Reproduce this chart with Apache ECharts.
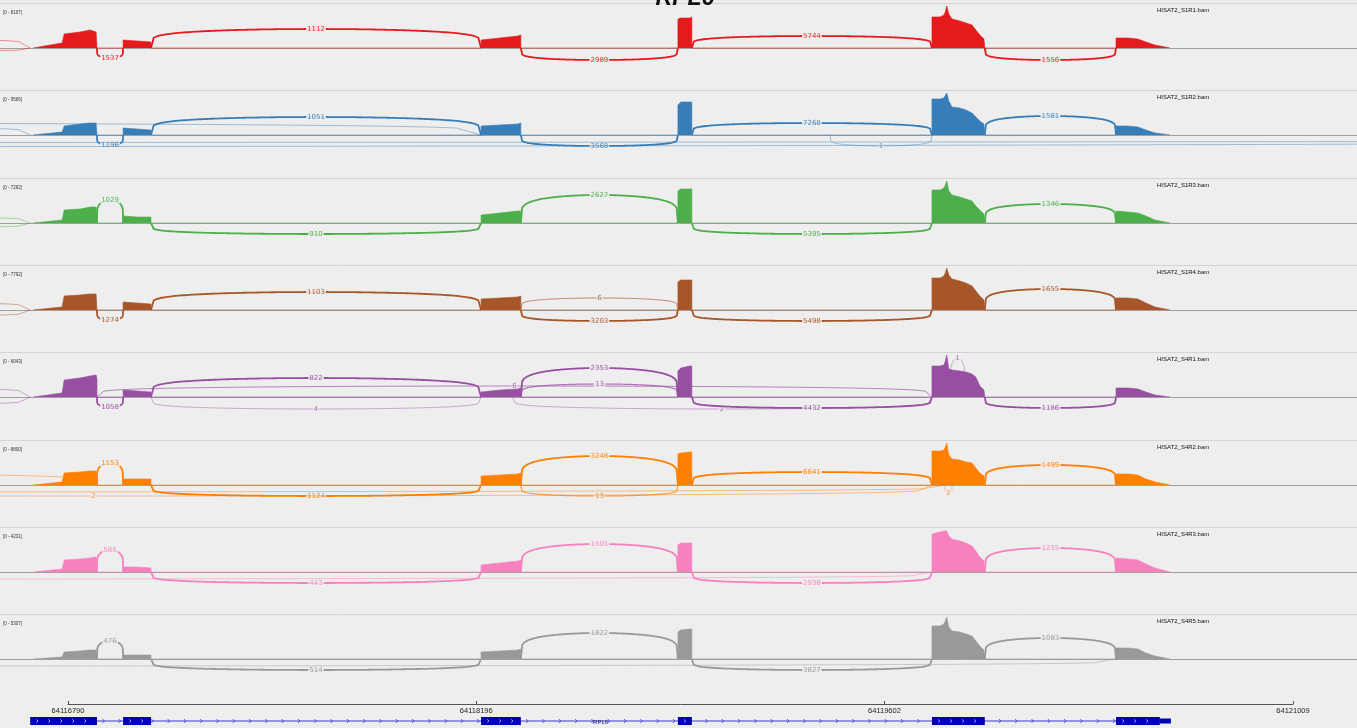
<!DOCTYPE html>
<html>
<head>
<meta charset="utf-8">
<script src="https://cdn.jsdelivr.net/npm/echarts@6/dist/echarts.min.js"></script>
<style>
  html, body { margin: 0; padding: 0; background: #eeeeee; }
  #chart { width: 1357px; height: 728px; }
</style>
</head>
<body>
<div id="chart"></div>
<script>
// ---------------- data ----------------
const geneName = 'RPL6';
const viewStart = 64116556;
const viewEnd = 64121230;
const axisTicks = [64116790, 64118196, 64119602, 64121009];

// exons of the gene model [start, end]; last exon has a UTR tail after cdsEnd
const exons = [
  [64116660, 64116890], [64116980, 64117076], [64118213, 64118350],
  [64118891, 64118939], [64119766, 64119948], [64120400, 64120589]
];
const cdsEnd = 64120551;

const sampleNames = [
  'HISAT2_S1R1.bam', 'HISAT2_S1R2.bam', 'HISAT2_S1R3.bam', 'HISAT2_S1R4.bam',
  'HISAT2_S4R1.bam', 'HISAT2_S4R2.bam', 'HISAT2_S4R3.bam', 'HISAT2_S4R5.bam'
];
const dataRanges = [8107, 9566, 7282, 7792, 6043, 8800, 4231, 5307];

// genomic positions where read depth is sampled (shared by every track)
const covPos = [
  64116670, 64116770, 64116777, 64116832, 64116866, 64116887, 64116890, 64116890,
  64116980, 64116980, 64117028, 64117076, 64117076,
  64118213, 64118213, 64118278, 64118340, 64118350, 64118350,
  64118891, 64118891, 64118901, 64118932, 64118939, 64118939,
  64119766, 64119766, 64119794, 64119807, 64119812, 64119817, 64119824, 64119835,
  64119862, 64119883, 64119904, 64119917, 64119931, 64119945, 64119948, 64119948,
  64120400, 64120400, 64120441, 64120475, 64120503, 64120534, 64120586
];

const covS1R1 = [
  0, 965, 2702, 3088, 3474, 3088, 2895, 0,
  0, 1544, 1351, 1158, 0,
  0, 1544, 1930, 2316, 2509, 0,
  0, 5597, 5790, 5790, 5983, 0,
  0, 5983, 5983, 6369, 6948, 8107, 6562, 5597, 5211, 4825, 4439, 3474, 2509, 1737, 1544, 0,
  0, 1930, 1930, 1737, 1158, 579, 0
];
const covS1R2 = [
  0, 684, 2050, 2506, 2733, 2733, 2506, 0,
  0, 1594, 1367, 1139, 0,
  0, 2050, 2278, 2506, 2733, 0,
  0, 6833, 7516, 7516, 7516, 0,
  0, 8199, 8199, 8427, 8882, 9566, 7744, 6377, 6150, 5694, 5011, 4100, 3189, 2506, 2278, 0,
  0, 2050, 2050, 1822, 1139, 456, 0
];
const covS1R3 = [
  0, 520, 2254, 2427, 2774, 2774, 2601, 0,
  0, 1214, 1040, 1040, 0,
  0, 1387, 1734, 2080, 2080, 0,
  0, 5548, 5895, 5895, 5895, 0,
  0, 5721, 5721, 6068, 6588, 7282, 5548, 4855, 4508, 4161, 3814, 2947, 2254, 1560, 1387, 0,
  0, 2080, 1907, 1734, 1214, 520, 0
];
const covS1R4 = [
  0, 557, 2597, 2783, 2969, 2969, 2783, 0,
  0, 1484, 1299, 1113, 0,
  0, 2041, 2226, 2412, 2597, 0,
  0, 5195, 5566, 5566, 5566, 0,
  0, 5937, 5937, 6308, 6865, 7792, 6494, 5751, 5380, 5009, 4453, 3525, 2597, 1855, 1670, 0,
  0, 2226, 2226, 2041, 1299, 557, 0
];
const covS4R1 = [
  0, 576, 2446, 2734, 3022, 3165, 2590, 0,
  0, 1007, 863, 719, 0,
  0, 719, 1007, 1151, 1295, 0,
  0, 3741, 4173, 4460, 4460, 0,
  0, 4460, 4460, 4604, 5180, 6043, 4029, 3885, 3741, 3597, 3309, 2878, 1583, 1007, 863, 0,
  0, 1295, 1295, 1151, 719, 288, 0
];
const covS4R2 = [
  0, 629, 2514, 2724, 2933, 2933, 2724, 0,
  0, 1257, 1257, 1257, 0,
  0, 1886, 2095, 2305, 2514, 0,
  0, 6495, 6705, 6914, 6914, 0,
  0, 7124, 7124, 7333, 7962, 8800, 6286, 5448, 5238, 4819, 4610, 3562, 2514, 1886, 1676, 0,
  0, 2305, 2305, 2095, 1257, 629, 0
];
const covS4R3 = [
  0, 302, 1209, 1310, 1410, 1511, 1410, 0,
  0, 504, 504, 403, 0,
  0, 705, 907, 1108, 1209, 0,
  0, 2720, 2921, 2921, 2921, 0,
  0, 3828, 4029, 4130, 4231, 4130, 3626, 3324, 3123, 2921, 2619, 2115, 1511, 1108, 1007, 0,
  0, 1410, 1310, 1209, 806, 403, 0
];
const covS4R5 = [
  0, 253, 884, 1011, 1137, 1137, 1011, 0,
  0, 505, 505, 505, 0,
  0, 884, 1011, 1137, 1264, 0,
  0, 3412, 3664, 3791, 3791, 0,
  0, 4170, 4170, 4422, 4802, 5307, 4043, 3538, 3412, 3159, 2906, 2274, 1643, 1137, 1011, 0,
  0, 1390, 1390, 1264, 758, 379, 0
];

// splice junctions [donor, acceptor, read count]
const juncS1R1 = [
  [64111840, 64116660, 4], [64111840, 64116660, 3],
  [64116890, 64116980, 1537], [64117076, 64118213, 1112], [64118350, 64118891, 2989],
  [64118939, 64119766, 5744], [64119948, 64120400, 1556]
];
const juncS1R2 = [
  [64111840, 64116660, 3],
  [64116890, 64116980, 1196], [64117076, 64118213, 1051], [64118350, 64118891, 3568],
  [64118939, 64119766, 7268], [64119948, 64120400, 1581], [64119415, 64119766, 1],
  [64107946, 64118213, 2], [64047676, 64125166, 3], [64064900, 64122756, 2]
];
const juncS1R3 = [
  [64111840, 64116660, 3], [64111840, 64116660, 2],
  [64116890, 64116980, 1029], [64117076, 64118213, 910], [64118350, 64118891, 2627],
  [64118939, 64119766, 5395], [64119948, 64120400, 1346]
];
const juncS1R4 = [
  [64111840, 64116660, 3], [64111840, 64116660, 2],
  [64116890, 64116980, 1274], [64117076, 64118213, 1103], [64118350, 64118891, 6],
  [64118350, 64118891, 3203], [64118939, 64119766, 5498], [64119948, 64120400, 1655]
];
const juncS4R1 = [
  [64111840, 64116660, 3], [64111840, 64116660, 2],
  [64116890, 64116980, 1058], [64116890, 64119766, 6], [64117076, 64118213, 822],
  [64117076, 64118213, 4], [64118350, 64118891, 2353], [64118350, 64118891, 13],
  [64118320, 64119766, 2], [64118939, 64119766, 4432], [64119948, 64120400, 1186],
  [64119828, 64119880, 1]
];
const juncS4R2 = [
  [64111840, 64116870, 2],
  [64116890, 64116980, 1153], [64117076, 64118213, 1124], [64118350, 64118891, 3248],
  [64118350, 64118891, 13], [64118939, 64119766, 6641], [64119948, 64120400, 1499],
  [64119811, 64119835, 2], [64113990, 64119766, 2], [64111000, 64119811, 3]
];
const juncS4R3 = [
  [64116890, 64116980, 585], [64117076, 64118213, 443], [64118350, 64118891, 1501],
  [64118939, 64119766, 2938], [64119948, 64120400, 1215], [64111400, 64119766, 2]
];
const juncS4R5 = [
  [64116890, 64116980, 476], [64117076, 64118213, 514], [64118350, 64118891, 1822],
  [64118939, 64119766, 3827], [64119948, 64120400, 1083], [64111400, 64120400, 2]
];

// ---------------- drawing style ----------------
const trackColors = ['#e41a1c', '#377eb8', '#4daf4a', '#a65628', '#984ea3', '#ff7f00', '#f781bf', '#999999'];
// arc placement for each junction: [side (1 above / -1 below), arc height in px]
const arcStyleS1R1 = [[1, 12], [-1, 4], [-1, 10], [1, 19], [-1, 12], [1, 12], [-1, 12]];
const arcStyleS1R2 = [[1, 10], [-1, 10], [1, 18], [-1, 11], [1, 12], [1, 19], [-1, 11], [1, 13], [-1, 9], [-1, 14]];
const arcStyleS1R3 = [[1, 8], [-1, 6], [1, 23], [-1, 11], [1, 28], [-1, 11], [1, 19]];
const arcStyleS1R4 = [[1, 10], [-1, 8], [-1, 10], [1, 18], [1, 12], [-1, 11], [-1, 11], [1, 21]];
const arcStyleS4R1 = [[1, 12], [-1, 10], [-1, 10], [1, 11], [1, 19], [-1, 12], [1, 29], [1, 13], [-1, 12], [-1, 11], [-1, 11], [1, 39]];
const arcStyleS4R2 = [[1, 13], [1, 22], [-1, 11], [1, 29], [-1, 11], [1, 13], [1, 20], [-1, 8], [-1, 11], [-1, 7]];
const arcStyleS4R3 = [[1, 22], [-1, 11], [1, 28], [-1, 11], [1, 24], [-1, 7]];
const arcStyleS4R5 = [[1, 18], [-1, 11], [1, 26], [-1, 11], [1, 21], [-1, 7]];

const tracks = [
  { cov: covS1R1, junc: juncS1R1, arcs: arcStyleS1R1 },
  { cov: covS1R2, junc: juncS1R2, arcs: arcStyleS1R2 },
  { cov: covS1R3, junc: juncS1R3, arcs: arcStyleS1R3 },
  { cov: covS1R4, junc: juncS1R4, arcs: arcStyleS1R4 },
  { cov: covS4R1, junc: juncS4R1, arcs: arcStyleS4R1 },
  { cov: covS4R2, junc: juncS4R2, arcs: arcStyleS4R2 },
  { cov: covS4R3, junc: juncS4R3, arcs: arcStyleS4R3 },
  { cov: covS4R5, junc: juncS4R5, arcs: arcStyleS4R5 }
];

const BG = '#eeeeee';
const FIRST_BASE = 48, TRACK_STEP = 87.3, COV_H = 42, BELOW_H = 40;

const grids = [], xAxes = [], yAxes = [], series = [], graphics = [];

tracks.forEach((t, i) => {
  const color = trackColors[i];
  const range = dataRanges[i];
  const base = Math.round(FIRST_BASE + i * TRACK_STEP);
  grids.push({ left: 0, right: 0, top: base - COV_H, height: COV_H + BELOW_H });
  xAxes.push({
    type: 'value', gridIndex: i, min: viewStart, max: viewEnd,
    axisLine: { show: true, onZero: true, lineStyle: { color: '#a0a0a0', width: 1 } },
    axisTick: { show: false }, axisLabel: { show: false }, splitLine: { show: false }
  });
  yAxes.push({ type: 'value', gridIndex: i, min: -range * BELOW_H / COV_H, max: range, show: false });

  // junction arcs
  series.push({
    type: 'custom', xAxisIndex: i, yAxisIndex: i, clip: true, z: 2, silent: true,
    data: t.junc,
    renderItem: (params, api) => {
      const [side, lift] = t.arcs[params.dataIndex];
      const count = api.value(2);
      const p0 = api.coord([api.value(0), 0]);
      const p1 = api.coord([api.value(1), 0]);
      const pts = [];
      const N = 120;
      for (let k = 0; k <= N; k++) {
        const u = k / N;
        const h = lift * Math.pow(Math.sin(Math.PI * u), 0.17);
        pts.push([p0[0] + (p1[0] - p0[0]) * u, p0[1] - side * h]);
      }
      const w = count >= 100 ? 1.8 : (count >= 10 ? 1.2 : 0.9);
      const op = count >= 100 ? 1 : (count >= 5 ? 0.75 : 0.5);
      return {
        type: 'group',
        children: [
          { type: 'polyline', shape: { points: pts }, style: { stroke: color, lineWidth: w, fill: null, opacity: op } },
          {
            type: 'text', x: (p0[0] + p1[0]) / 2, y: p0[1] - side * lift,
            style: {
              text: String(count), fill: color, fontSize: 7, fontFamily: 'DejaVu Sans',
              align: 'center', verticalAlign: 'middle', backgroundColor: BG, padding: [0, 1],
              opacity: count >= 100 ? 0.9 : 0.8
            }
          }
        ]
      };
    }
  });

  // read coverage
  series.push({
    type: 'line', xAxisIndex: i, yAxisIndex: i, z: 3, silent: true,
    data: covPos.map((p, k) => [p, t.cov[k]]),
    symbol: 'none', showSymbol: false,
    lineStyle: { width: 0.6, color: color },
    itemStyle: { color: color },
    areaStyle: { color: color, opacity: 1 }
  });

  graphics.push({
    type: 'line', silent: true, z: 0,
    shape: { x1: 0, y1: base - 44.5, x2: 1357, y2: base - 44.5 },
    style: { stroke: '#d4d4d4', lineWidth: 1 }
  });
  graphics.push({
    type: 'text', silent: true, x: 3, y: base - 38,
    style: { text: '[0 - ' + range + ']', fontSize: 4.5, fontFamily: 'Liberation Sans', fill: '#333' }
  });
  graphics.push({
    type: 'text', silent: true, x: 1157, y: base - 41,
    style: { text: sampleNames[i], fontSize: 6, fontFamily: 'Liberation Sans', fill: '#111' }
  });
});

// genomic coordinate axis
const axisGrid = grids.length;
grids.push({ left: 68, right: 64, top: 700, height: 4 });
xAxes.push({
  type: 'value', gridIndex: axisGrid, min: axisTicks[0], max: axisTicks[axisTicks.length - 1],
  axisLine: { show: true, onZero: false, lineStyle: { color: '#555', width: 1 } },
  axisTick: { show: true, inside: true, length: 3, customValues: axisTicks, lineStyle: { color: '#555' } },
  axisLabel: { show: true, customValues: axisTicks, fontSize: 7.5, fontFamily: 'Liberation Sans', color: '#222', margin: 3, formatter: v => String(v) },
  splitLine: { show: false }
});
yAxes.push({ type: 'value', gridIndex: axisGrid, min: 0, max: 1, show: false });
series.push({ type: 'line', xAxisIndex: axisGrid, yAxisIndex: axisGrid, data: [], silent: true });

// gene model
const geneGrid = grids.length;
grids.push({ left: 0, right: 0, top: 717, height: 8 });
xAxes.push({ type: 'value', gridIndex: geneGrid, min: viewStart, max: viewEnd, show: false });
yAxes.push({ type: 'value', gridIndex: geneGrid, min: -1, max: 1, show: false });
const GENE_BLUE = '#0000b2';
series.push({
  type: 'custom', xAxisIndex: geneGrid, yAxisIndex: geneGrid, z: 2, silent: true,
  data: [[exons[0][0], exons[exons.length - 1][1]]],
  renderItem: (params, api) => {
    const a = api.coord([api.value(0), 0]);
    const b = api.coord([api.value(1), 0]);
    const children = [
      { type: 'line', shape: { x1: a[0], y1: a[1], x2: b[0], y2: b[1] }, style: { stroke: '#3a3ad0', lineWidth: 1 } }
    ];
    for (let x = a[0] + 8; x < b[0] - 4; x += 16.3) {
      children.push({ type: 'polyline', shape: { points: [[x - 1, a[1] - 2], [x + 1, a[1]], [x - 1, a[1] + 2]] }, style: { stroke: '#3a3ad0', lineWidth: 0.8, fill: null } });
    }
    children.push({
      type: 'text', x: (a[0] + b[0]) / 2, y: a[1] + 1,
      style: { text: geneName, fontSize: 6, fontFamily: 'Liberation Sans', fill: '#1a1a80', align: 'center', verticalAlign: 'middle' }
    });
    return { type: 'group', children };
  }
});
series.push({
  type: 'custom', xAxisIndex: geneGrid, yAxisIndex: geneGrid, z: 3, silent: true,
  data: exons,
  renderItem: (params, api) => {
    const s = api.value(0), e = api.value(1);
    const a = api.coord([s, 0]);
    const thickEnd = Math.min(e, cdsEnd);
    const b = api.coord([thickEnd, 0]);
    const children = [
      { type: 'rect', shape: { x: a[0], y: a[1] - 4, width: b[0] - a[0], height: 8 }, style: { fill: GENE_BLUE } }
    ];
    if (e > cdsEnd) {
      const c = api.coord([e, 0]);
      children.push({ type: 'rect', shape: { x: b[0], y: a[1] - 2.5, width: c[0] - b[0], height: 5 }, style: { fill: GENE_BLUE } });
    }
    for (let x = a[0] + 7; x < b[0] - 4; x += 12) {
      children.push({ type: 'polyline', shape: { points: [[x - 0.8, a[1] - 1.5], [x + 0.8, a[1]], [x - 0.8, a[1] + 1.5]] }, style: { stroke: '#ffffff', lineWidth: 0.7, fill: null } });
    }
    return { type: 'group', children };
  }
});

// gene title, partly above the page edge
graphics.push({
  type: 'text', silent: true, x: 685, y: -1,
  style: { text: geneName, font: 'italic bold 23px "Liberation Sans"', fill: '#111', align: 'center', verticalAlign: 'middle' }
});

const chart = echarts.init(document.getElementById('chart'), null, { renderer: 'canvas' });
chart.setOption({
  backgroundColor: BG,
  animation: false,
  grid: grids,
  xAxis: xAxes,
  yAxis: yAxes,
  series: series,
  graphic: { elements: graphics }
});
</script>
</body>
</html>
